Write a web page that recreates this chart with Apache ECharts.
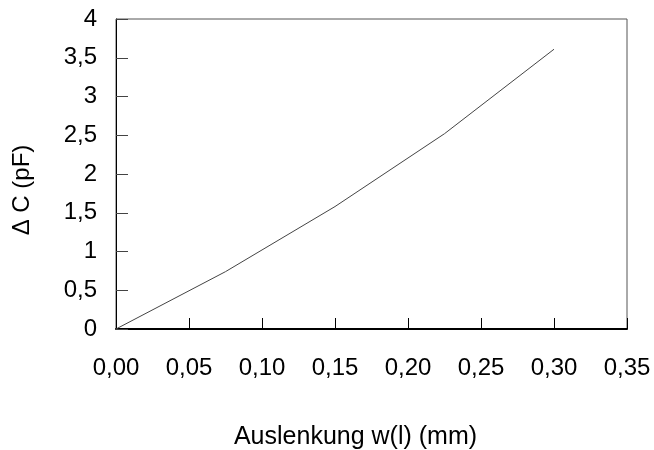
<!DOCTYPE html>
<html>
<head>
<meta charset="utf-8">
<script src="https://cdn.jsdelivr.net/npm/echarts@6/dist/echarts.min.js"></script>
<style>html,body{margin:0;padding:0;background:#fff}#c{width:654px;height:450px}</style>
</head>
<body>
<div id="c"></div>
<script>
const xValues = [0, 0.075, 0.15, 0.225, 0.30];
const yValues = [0, 0.74, 1.58, 2.52, 3.61];
const xTitle = 'Auslenkung w(l) (mm)';
const yTitle = 'Δ C (pF)';

const chart = echarts.init(document.getElementById('c'));
const font = '"Liberation Sans", Arial, sans-serif';
const fmt = (d) => (v) => v.toFixed(d).replace('.', ',');
chart.setOption({
  animation: false,
  grid: { left: 116, right: 27, top: 19, bottom: 121, show: true, borderColor: '#555', borderWidth: 1, containLabel: false, outerBoundsMode: 'none' },
  xAxis: {
    type: 'value', min: 0, max: 0.35, interval: 0.05,
    name: xTitle, nameLocation: 'middle', nameGap: 96,
    nameTextStyle: { fontFamily: font, fontSize: 25, color: '#000', padding: [0, 32, 0, 0] },
    axisLine: { show: true, onZero: false, lineStyle: { color: '#000', width: 2 } },
    axisTick: { show: true, inside: true, length: 11, lineStyle: { color: '#000', width: 1 } },
    axisLabel: { fontFamily: font, fontSize: 24, color: '#000', margin: 27, formatter: fmt(2) },
    splitLine: { show: false }
  },
  yAxis: {
    type: 'value', min: 0, max: 4, interval: 0.5,
    name: yTitle, nameLocation: 'middle', nameGap: 82, nameRotate: 90,
    nameTextStyle: { fontFamily: font, fontSize: 24, color: '#000', padding: [0, 0, 0, -32] },
    axisLine: { show: true, lineStyle: { color: '#000', width: 1 } },
    axisTick: { show: true, inside: true, length: 12, lineStyle: { color: '#444', width: 1 } },
    axisLabel: { fontFamily: font, fontSize: 24, color: '#000', margin: 19, formatter: (v) => String(v).replace('.', ',') },
    splitLine: { show: false }
  },
  series: [{
    type: 'line',
    data: xValues.map((x, i) => [x, yValues[i]]),
    symbol: 'none',
    lineStyle: { color: '#444', width: 1 }
  }]
});
</script>
</body>
</html>
